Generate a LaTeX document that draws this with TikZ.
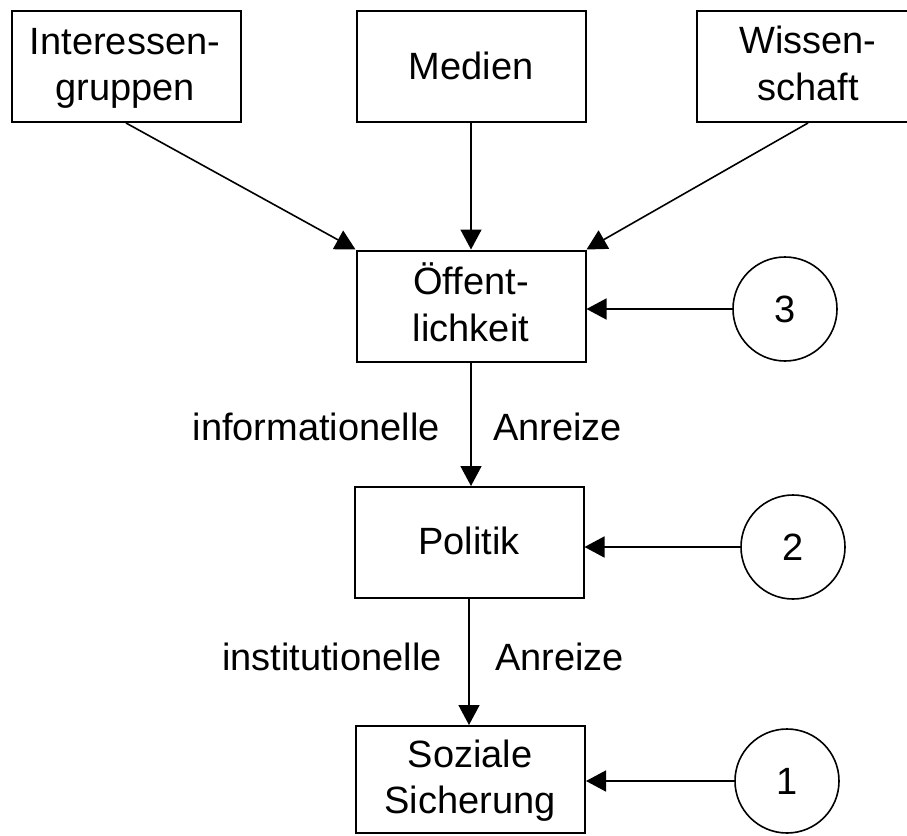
\documentclass[tikz,border=0pt]{standalone}
\usepackage{fontspec}
\setmainfont{Liberation Sans}
\usetikzlibrary{arrows.meta}
\tikzset{
  box/.style={draw=black, line width=2pt, rectangle, minimum width=229pt, minimum height=111pt, inner sep=0pt},
  ring/.style={draw=black, line width=1.6pt, circle, minimum size=104pt, inner sep=0pt, font=\fontsize{38}{46}\selectfont},
  txt/.style={inner sep=0pt, font=\fontsize{38}{46}\selectfont, anchor=base},
  conn/.style={line width=1.6pt, -{Triangle[length=20pt,width=21pt]}},
}
\begin{document}
\begin{tikzpicture}[x=1pt,y=-1pt]
\useasboundingbox (0,0) rectangle (907,835);
% boxes
\node[box] (ig) at (126,66.5) {};
\node[box] (me) at (471,66.5) {};
\node[box, minimum width=222pt] (wi) at (808,66.5) {};
\node[box] (oe) at (471,306) {};
\node[box] (po) at (469,542.5) {};
\node[box, minimum height=107pt] (so) at (470.5,779.5) {};
% box texts
\node[txt] (ig1) at (125,54) {Interessen-};
\node[txt] (ig2) at (125,100) {gruppen};
\node[txt] (me1) at (471,79) {Medien};
\node[txt] (wi1) at (808,53) {Wissen-};
\node[txt] (wi2) at (808,100) {schaft};
\node[txt] (oe1) at (471,294) {Öffent-};
\node[txt] (oe2) at (471,341) {lichkeit};
\node[txt] (po1) at (469,554) {Politik};
\node[txt] (so1) at (470,767) {Soziale};
\node[txt] (so2) at (470,813) {Sicherung};
% circles
\node[ring] (c3) at (785,309) {3};
\node[ring] (c2) at (793,547) {2};
\node[ring] (c1) at (787,781) {1};
% edge labels
\node[txt, anchor=base east] (l1) at (440,440) {informationelle};
\node[txt, anchor=base west] (l2) at (493,440) {Anreize};
\node[txt, anchor=base east] (l3) at (442,670) {institutionelle};
\node[txt, anchor=base west] (l4) at (495,670) {Anreize};
% connectors
\draw[conn] (ig.south) -- (oe.north west);
\draw[conn] (me.south) -- (oe.north);
\draw[conn] (wi.south) -- (oe.north east);
\draw[conn] (c3.west) -- (c3.west -| oe.east);
\draw[conn] (oe.south) -- (oe.south |- po.north);
\draw[conn] (c2.west) -- (c2.west -| po.east);
\draw[conn] (po.south) -- (po.south |- so.north);
\draw[conn] (c1.west) -- (c1.west -| so.east);
\end{tikzpicture}
\end{document}
